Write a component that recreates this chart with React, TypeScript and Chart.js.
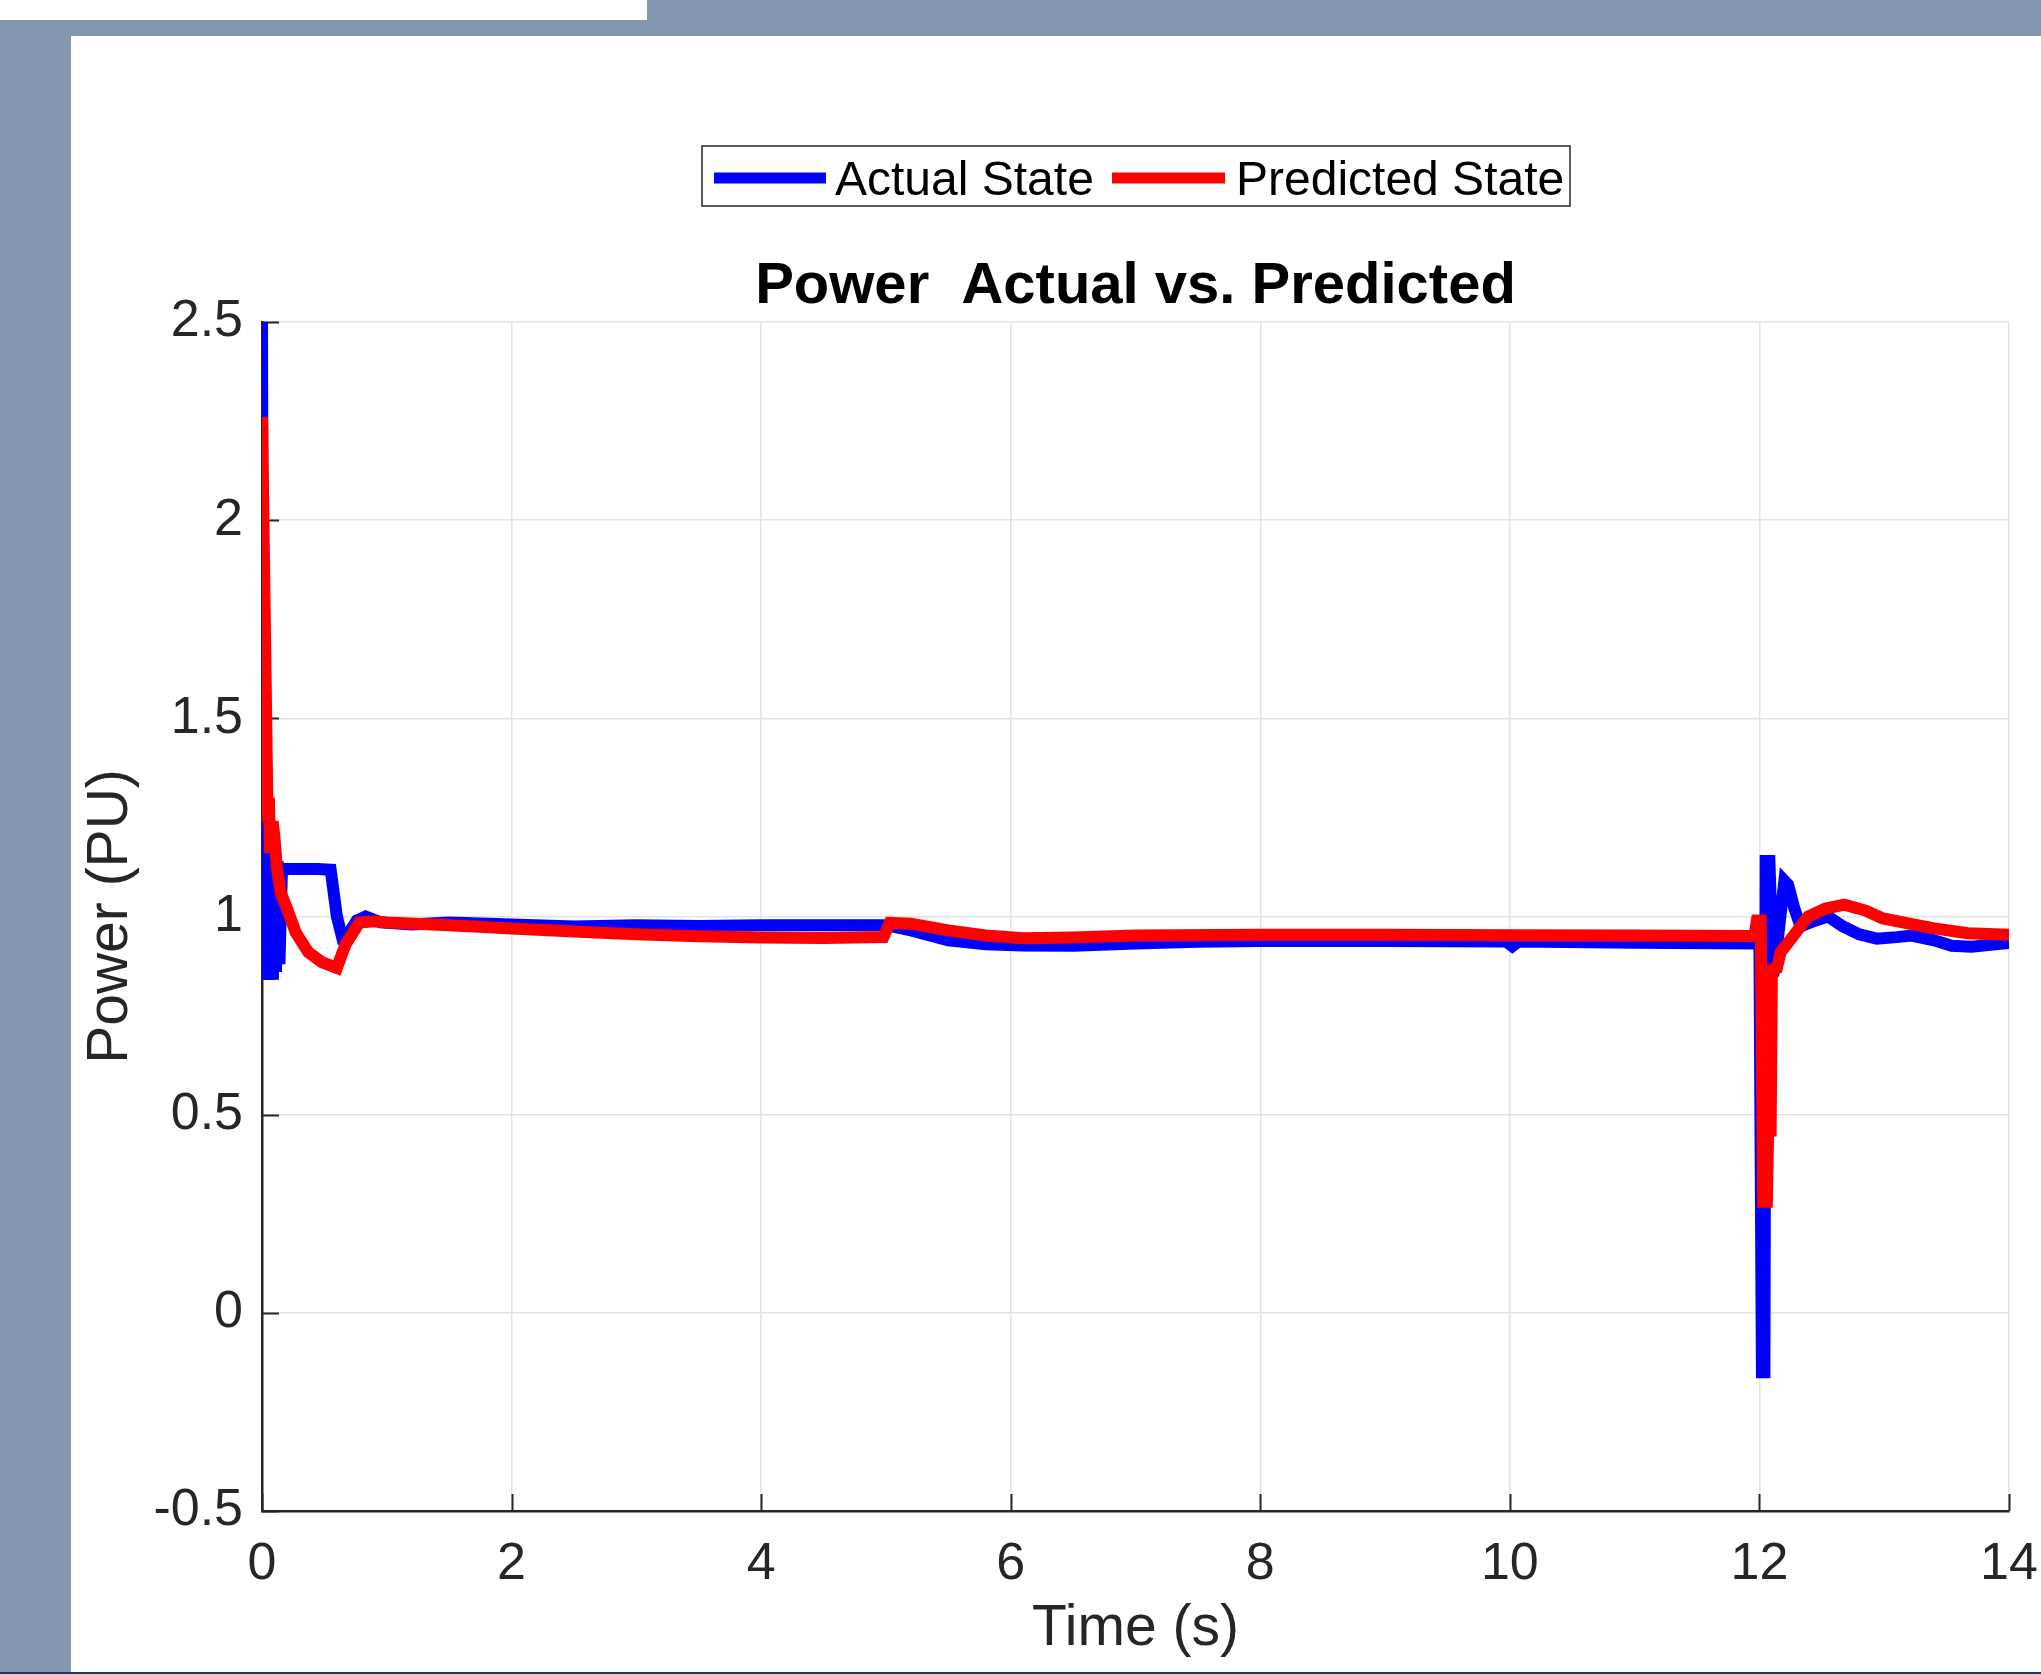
import React, { useEffect, useRef } from "react";
import { Chart, registerables } from "chart.js";

Chart.register(...registerables);

const chartTitle = "Power  Actual vs. Predicted";
const xAxisLabel = "Time (s)";
const yAxisLabel = "Power (PU)";
const seriesLabels = ["Actual State", "Predicted State"];
const seriesColors = ["#0000ff", "#ff0000"];

const xTicks = [0, 2, 4, 6, 8, 10, 12, 14];
const yTicks = [-0.5, 0, 0.5, 1, 1.5, 2, 2.5];

const actualTime = [
  0, 0.012, 0.025, 0.037, 0.05, 0.062, 0.075, 0.087, 0.1, 0.112, 0.125, 0.14, 0.16,
  0.3, 0.45, 0.55, 0.6, 0.64, 0.7, 0.76, 0.83, 0.95, 1.2, 1.5, 2.0, 2.5, 3.0, 3.5,
  4.0, 4.5, 5.0, 5.2, 5.5, 5.8, 6.1, 6.5, 7.0, 7.5, 8.0, 9.0, 9.97, 10.02, 10.07,
  11.0, 11.98, 12.0, 12.02, 12.04, 12.05, 12.08, 12.11, 12.15, 12.2, 12.23, 12.28,
  12.33, 12.45, 12.55, 12.67, 12.8, 12.94, 13.1, 13.22, 13.4, 13.54, 13.7, 13.95, 14.0,
];
const actualPower = [
  2.5, 0.86, 1.21, 0.84, 1.2, 0.85, 1.18, 0.84, 1.16, 0.86, 1.14, 0.88, 1.12,
  1.12, 1.12, 1.118, 1.0, 0.95, 0.96, 0.99, 1.0, 0.985, 0.98, 0.985, 0.98, 0.975, 0.978, 0.976,
  0.978, 0.978, 0.978, 0.965, 0.94, 0.93, 0.927, 0.926, 0.932, 0.936, 0.938, 0.938, 0.937, 0.925, 0.937,
  0.934, 0.932, 0.93, -0.15, -0.15, 1.14, 1.14, 0.85, 0.95, 1.09, 1.08, 1.02,
  0.975, 0.99, 1.0, 0.975, 0.955, 0.944, 0.948, 0.952, 0.94, 0.926, 0.924, 0.932, 0.933,
];

const predictedTime = [
  0, 0.045, 0.055, 0.065, 0.085, 0.1, 0.12, 0.15, 0.2, 0.27, 0.37, 0.48, 0.6, 0.67,
  0.78, 0.9, 1.0, 1.5, 2.0, 2.5, 3.0, 3.5, 4.0, 4.5, 4.98, 5.03, 5.2, 5.5, 5.8, 6.1,
  6.5, 7.0, 8.0, 9.0, 10.0, 11.0, 11.96, 11.98, 12.01, 12.03, 12.06, 12.07, 12.09,
  12.1, 12.14, 12.17, 12.26, 12.39, 12.53, 12.68, 12.85, 12.99, 13.2, 13.4, 13.67, 14.0,
];
const predictedPower = [
  2.26, 1.24, 1.3, 1.16, 1.24, 1.2, 1.12, 1.06, 1.02, 0.96, 0.91, 0.885, 0.87, 0.93,
  0.985, 0.988, 0.985, 0.978, 0.97, 0.962, 0.955, 0.95, 0.947, 0.946, 0.948, 0.984, 0.982, 0.965, 0.952, 0.945,
  0.947, 0.952, 0.954, 0.954, 0.953, 0.952, 0.951, 0.99, 0.99, 0.28, 0.28, 0.46, 0.46,
  0.866, 0.87, 0.91, 0.946, 1.0, 1.02, 1.03, 1.015, 0.995, 0.982, 0.97, 0.958, 0.954,
];

const FONT = "'Liberation Sans', Arial, Helvetica, sans-serif";
const AXIS_COLOR = "#262626";

const decorPlugin = {
  id: "matlabDecor",
  beforeDatasetsDraw(chart: any) {
    const { ctx, chartArea, scales } = chart;
    ctx.save();
    ctx.strokeStyle = AXIS_COLOR;
    ctx.lineWidth = 2;
    const len = 17;
    xTicks.forEach((v) => {
      const px = Math.round(scales.x.getPixelForValue(v)) + 0.5;
      ctx.beginPath();
      ctx.moveTo(px, chartArea.bottom);
      ctx.lineTo(px, chartArea.bottom - len);
      ctx.stroke();
    });
    yTicks.forEach((v) => {
      const py = Math.round(scales.y.getPixelForValue(v)) + 0.5;
      ctx.beginPath();
      ctx.moveTo(chartArea.left, py);
      ctx.lineTo(chartArea.left + len, py);
      ctx.stroke();
    });
    ctx.restore();
  },
  afterDraw(chart: any) {
    const { ctx, chartArea } = chart;
    const cx = (chartArea.left + chartArea.right) / 2;
    ctx.save();
    // title
    ctx.fillStyle = "#000000";
    ctx.font = `bold 58px ${FONT}`;
    ctx.textAlign = "center";
    ctx.textBaseline = "alphabetic";
    ctx.fillText(chartTitle, cx, 303);
    // legend box
    const boxL = 702, boxR = 1570, boxT = 146, boxB = 206;
    ctx.fillStyle = "#ffffff";
    ctx.fillRect(boxL, boxT, boxR - boxL, boxB - boxT);
    ctx.strokeStyle = AXIS_COLOR;
    ctx.lineWidth = 1.5;
    ctx.strokeRect(boxL, boxT, boxR - boxL, boxB - boxT);
    const items = [
      { x1: 714, x2: 826, tx: 835 },
      { x1: 1112, x2: 1225, tx: 1236 },
    ];
    ctx.font = `48px ${FONT}`;
    ctx.textAlign = "left";
    items.forEach((it, i) => {
      ctx.strokeStyle = seriesColors[i];
      ctx.lineWidth = 11;
      ctx.lineCap = "butt";
      ctx.beginPath();
      ctx.moveTo(it.x1, 178);
      ctx.lineTo(it.x2, 178);
      ctx.stroke();
      ctx.fillStyle = "#000000";
      ctx.fillText(seriesLabels[i], it.tx, 195);
    });
    ctx.restore();
  },
};

export default function App() {
  const canvasRef = useRef<HTMLCanvasElement | null>(null);

  useEffect(() => {
    const canvas = canvasRef.current;
    if (!canvas) return;
    const actualData = actualTime.map((t, i) => ({ x: t, y: actualPower[i] }));
    const predictedData = predictedTime.map((t, i) => ({ x: t, y: predictedPower[i] }));

    const chart = new Chart(canvas, {
      type: "line",
      data: {
        datasets: [
          {
            label: seriesLabels[0],
            data: actualData,
            borderColor: seriesColors[0],
            backgroundColor: seriesColors[0],
            borderWidth: 12,
            pointRadius: 0,
            tension: 0,
            fill: false,
            order: 2,
          },
          {
            label: seriesLabels[1],
            data: predictedData,
            borderColor: seriesColors[1],
            backgroundColor: seriesColors[1],
            borderWidth: 12,
            pointRadius: 0,
            tension: 0,
            fill: false,
            order: 1,
          },
        ],
      },
      options: {
        animation: false,
        responsive: false,
        devicePixelRatio: 1,
        layout: { padding: { left: 0, top: 322, right: 32, bottom: 0 } },
        plugins: {
          legend: { display: false },
          title: { display: false },
          tooltip: { enabled: false },
        },
        scales: {
          x: {
            type: "linear",
            min: 0,
            max: 14,
            afterFit: (s: any) => {
              s.height = 163;
              s.paddingLeft = 0;
              s.paddingRight = 0;
            },
            afterBuildTicks: (s: any) => {
              s.ticks = xTicks.map((v) => ({ value: v }));
            },
            grid: {
              color: "#e3e3e3",
              lineWidth: 1.5,
              drawTicks: false,
            },
            border: { color: AXIS_COLOR, width: 2.5 },
            ticks: {
              color: AXIS_COLOR,
              font: { family: FONT, size: 52 },
              padding: 22,
              maxRotation: 0,
              callback: (v: any) => String(v),
            },
            title: {
              display: true,
              text: xAxisLabel,
              color: AXIS_COLOR,
              font: { family: FONT, size: 57 },
              padding: { top: 0, bottom: 11 },
            },
          },
          y: {
            type: "linear",
            min: -0.5,
            max: 2.5,
            afterFit: (s: any) => {
              s.width = 262;
              s.paddingTop = 0;
              s.paddingBottom = 0;
            },
            afterBuildTicks: (s: any) => {
              s.ticks = yTicks.map((v) => ({ value: v }));
            },
            grid: {
              color: "#e3e3e3",
              lineWidth: 1.5,
              drawTicks: false,
            },
            border: { color: AXIS_COLOR, width: 2.5 },
            ticks: {
              color: AXIS_COLOR,
              font: { family: FONT, size: 52 },
              padding: 19,
              callback: (v: any) => String(v),
            },
            title: {
              display: true,
              text: yAxisLabel,
              color: AXIS_COLOR,
              font: { family: FONT, size: 57 },
              padding: { top: 77, bottom: 0 },
            },
          },
        },
      },
      plugins: [decorPlugin],
    });

    return () => {
      chart.destroy();
    };
  }, []);

  return (
    <div
      style={{
        position: "absolute",
        left: 0,
        top: 0,
        width: 2041,
        height: 1674,
        background: "#8497b0",
        overflow: "hidden",
      }}
    >
      <div style={{ position: "absolute", left: 0, top: 0, width: 647, height: 20, background: "#ffffff" }} />
      <div style={{ position: "absolute", left: 71, top: 36, width: 1970, height: 1636, background: "#ffffff" }} />
      <div style={{ position: "absolute", left: 0, top: 1672, width: 2041, height: 2, background: "#203864" }} />
      <canvas
        ref={canvasRef}
        width={2041}
        height={1674}
        style={{ position: "absolute", left: 0, top: 0, width: 2041, height: 1674 }}
      />
    </div>
  );
}
